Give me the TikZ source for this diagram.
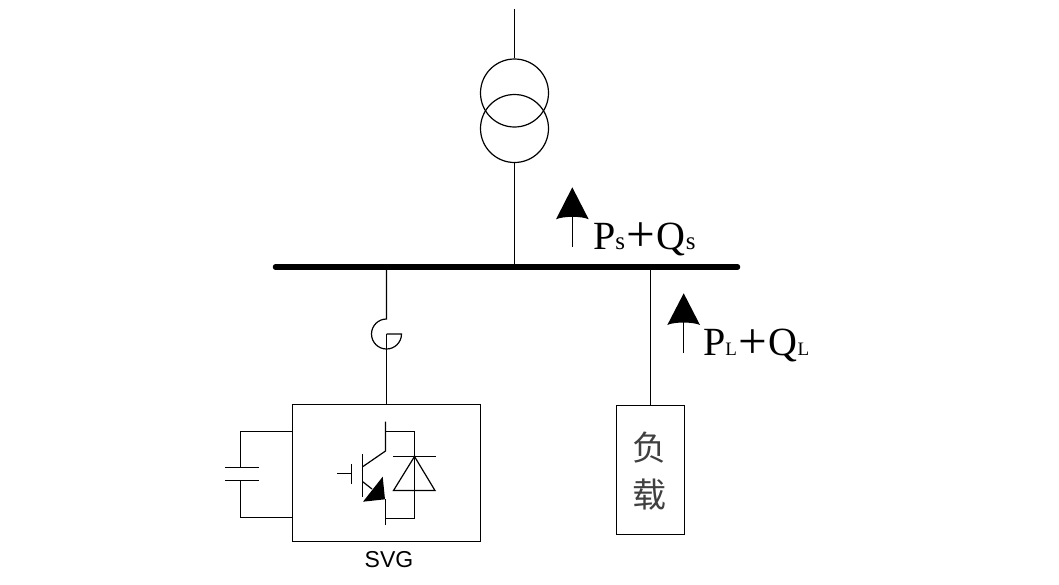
\documentclass[tikz,border=0pt]{standalone}
\usepackage{fontspec}
\setmainfont{Liberation Serif}
\newfontfamily\labelsans{Liberation Sans}
\newfontfamily\cjk{Noto Sans CJK SC}
\newcommand{\flowtext}[2]{\fontsize{40}{40}\selectfont P{\fontsize{#2}{#2}\selectfont #1}\hspace{1pt}\raisebox{-2.6pt}{\fontsize{51}{51}\selectfont +}\hspace{2pt}Q{\fontsize{#2}{#2}\selectfont #1}}
\tikzset{
  wire/.style={draw=black,line width=1.2pt},
  devicebox/.style={draw=black,line width=1.2pt,fill=none,inner sep=0pt,rectangle},
  winding/.style={draw=black,line width=1.2pt,circle,minimum size=68pt,inner sep=0pt},
  flowlabel/.style={inner sep=0pt,anchor=base west},
  hanzi/.style={inner sep=0pt,font=\cjk\fontsize{34}{34}\selectfont,text=black!75},
  headfill/.style={fill=black,draw=none}
}
\begin{document}
\begin{tikzpicture}[x=1pt,y=-1pt]
\useasboundingbox (0,0) rectangle (1059,584);
% transformer
\coordinate (hv) at (514.5,9);
\node[winding] (t1) at (514.5,93) {};
\node[winding] (t2) at (514.5,128.5) {};
\draw[wire] (hv) -- (t1.north);
% bus
\coordinate (busL) at (275.5,267);
\coordinate (busR) at (737.5,267);
\draw[line width=5.5pt,line cap=round] (busL) -- (busR);
\coordinate (busT) at (514.5,267);
\coordinate (busS) at (386.5,267);
\coordinate (busD) at (650.5,267);
\draw[wire] (t2.south) -- (busT);
% breaker symbol
\coordinate (brkTop) at (386.5,319);
\coordinate (brkMid) at (386.5,334);
\draw[wire] (busS) -- (brkTop) arc[start angle=270,end angle=0,radius=15] -- (brkMid);
% SVG box
\node[devicebox,minimum width=188pt,minimum height=137pt] (svg) at (386.5,473) {};
\draw[wire] (brkMid) -- (386.5,404.5);
\node[inner sep=0pt,anchor=base,font=\labelsans\fontsize{23}{23}\selectfont] (svglabel) at (389,567) {SVG};
% capacitor
\coordinate (capT) at (240.5,467.5);
\coordinate (capB) at (240.5,480.5);
\draw[wire] (svg.west |- 0,431.5) -- (240.5,431.5) -- (capT);
\draw[wire] (svg.west |- 0,517.5) -- (240.5,517.5) -- (capB);
\draw[wire] (225,467.5) -- (259,467.5);
\draw[wire] (225,480.5) -- (259,480.5);
% IGBT
\draw[wire] (337,473.5) -- (351.5,473.5);
\draw[wire] (351.5,464) -- (351.5,484);
\draw[wire] (362.5,454) -- (362.5,497);
\draw[wire] (385.5,421.5) -- (385.5,451) -- (362.7,466.7);
\draw[wire] (362.7,481.7) -- (372,489);
\fill[headfill] (363,501.7) -- (382.7,476.7) -- (385,499.3) -- cycle;
\draw[wire] (385.5,499) -- (385.5,525);
\draw[wire] (385.5,431.5) -- (414.5,431.5) -- (414.5,518.5) -- (385.5,518.5);
% diode
\draw[wire] (393.3,456.5) -- (435.7,456.5);
\draw[wire] (414.5,456.5) -- (393.5,490.5) -- (435,490.5) -- cycle;
\fill (414.5,456.5) circle[radius=1.3];
% load
\node[devicebox,minimum width=67.6pt,minimum height=129pt] (load) at (650.5,469.8) {};
\draw[wire] (busD) -- (650.5,405.3);
\node[hanzi] (fu) at (649,448) {负};
\node[hanzi] (zai) at (649,495) {载};
% flow arrows
\coordinate (psTail) at (572.3,246.7);
\coordinate (psHead) at (572.3,217);
\draw[wire] (psTail) -- (psHead);
\fill[headfill] (572.3,187.3) -- (588.7,219.3) .. controls (582,216) and (563,216) .. (556,219.3) -- cycle;
\coordinate (plTail) at (683.7,353);
\coordinate (plHead) at (683.7,322);
\draw[wire] (plTail) -- (plHead);
\fill[headfill] (683.7,293.3) -- (700,325) .. controls (693,321.7) and (674,321.7) .. (667.3,325) -- cycle;
\node[flowlabel] (ps) at (593,249.3) {\flowtext{s}{25}};
\node[flowlabel] (pl) at (703,355.5) {\flowtext{L}{19}};
\end{tikzpicture}
\end{document}
